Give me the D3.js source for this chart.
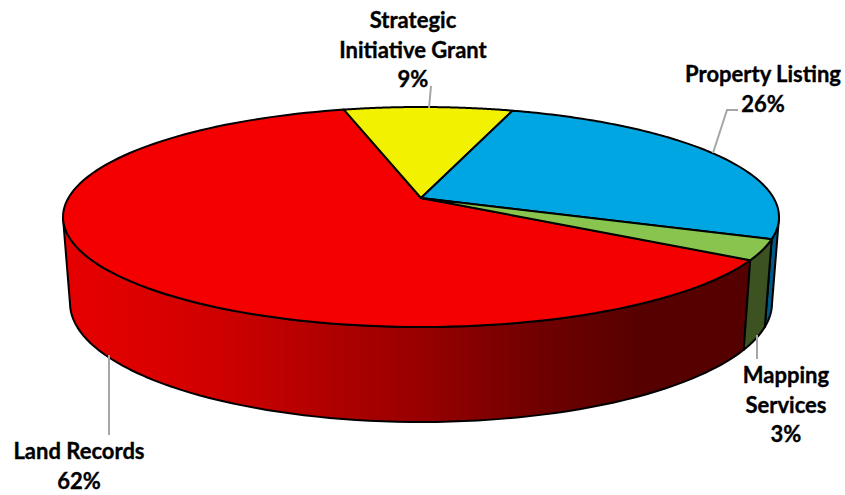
<!DOCTYPE html>
<html><head><meta charset="utf-8">
<style>html,body{margin:0;padding:0;background:#fff}svg{display:block}
text{font-family:Lato,sans-serif;font-weight:700;font-size:22px;fill:#000;stroke:#000;stroke-width:.35px;text-anchor:middle}</style>
<script src="https://cdn.jsdelivr.net/npm/d3@7"></script></head><body>
<svg width="845" height="495"></svg>
<script>
const categories=["Land Records","Strategic Initiative Grant","Property Listing","Mapping Services"];
const values=[62,9,26,3];
const topColors=["#f40000","#f2f200","#00a6e2","#88c44e"];
const wallColors=["url(#redWall)","#8a8a00","#005a88","#3c5220"];
const labelLines=[["Land Records","62%"],["Strategic","Initiative Grant","9%"],["Property Listing","26%"],["Mapping","Services","3%"]];
const labelX=[79,413,763,786];
const labelY=[459,28,82,383];
const leaders=[[[109,355],[109,435]],[[429,108],[431,86]],[[713,153],[727,110],[738,110]],[[757,335],[757,359]]];

const svg=d3.select("svg");
const W=svg.append("defs").append("linearGradient").attr("id","redWall").attr("gradientUnits","userSpaceOnUse")
 .attr("x1",0).attr("x2",845).attr("y1",0).attr("y2",0);
[[63,"#e60000"],[140,"#dd0000"],[230,"#cc0000"],[330,"#b00000"],[420,"#980000"],[540,"#700000"],[640,"#570000"],[750,"#550000"]]
 .forEach(s=>W.append("stop").attr("offset",s[0]/845).attr("stop-color",s[1]));

const xTop=d3.scaleLinear([-1,1],[63,779]), yTop=d3.scaleLinear([-1,1],[107,327]);
const xBot=d3.scaleLinear([-1,1],[70,772]), yBot=d3.scaleLinear([-1,1],[184,422]);
const k=0.173, q=Math.sqrt(1-k*k);
// perspective: unit disc point to ellipse coordinates, centre pushed up by k
function proj(a){const x=Math.sin(a),y=-Math.cos(a),d=1-k*y;return [x*q/d,(y-k)/d];}
const line=d3.line();
const pie=d3.pie().sort(null).startAngle(122*Math.PI/180).endAngle(482*Math.PI/180);
const arcs=pie(values);
const samples=(a0,a1)=>d3.range(0,121).map(i=>a0+(a1-a0)*i/120);

const g=svg.append("g").attr("stroke","#000").attr("stroke-linejoin","round");
// walls: only the part of each slice on the near side
arcs.forEach((s,i)=>{
  const pts=samples(s.startAngle,s.endAngle).filter(a=>proj(a)[1]>=0);
  if(pts.length<2)return;
  const t=pts.map(a=>{const p=proj(a);return [xTop(p[0]),yTop(p[1])];});
  const b=pts.map(a=>{const p=proj(a);return [xBot(p[0]),yBot(p[1])];}).reverse();
  g.append("path").attr("d",line(t.concat(b))+"Z").attr("fill",wallColors[i]).attr("stroke-width",2);
});
// top faces
arcs.forEach((s,i)=>{
  const c=[xTop(0),yTop(-k)];
  const t=samples(s.startAngle,s.endAngle).map(a=>{const p=proj(a);return [xTop(p[0]),yTop(p[1])];});
  g.append("path").attr("d",line([c].concat(t))+"Z").attr("fill",topColors[i]).attr("stroke-width",2);
});
svg.append("g").attr("stroke","#a6a6a6").attr("stroke-width",2).attr("fill","none")
 .selectAll("path").data(leaders).join("path").attr("d",d=>line(d));
labelLines.forEach((ls,i)=>{
  const t=svg.append("text").attr("x",labelX[i]).attr("y",labelY[i]);
  ls.forEach((l,j)=>t.append("tspan").attr("x",labelX[i]).attr("y",labelY[i]+j*29.5).text(l));
});
</script></body></html>
